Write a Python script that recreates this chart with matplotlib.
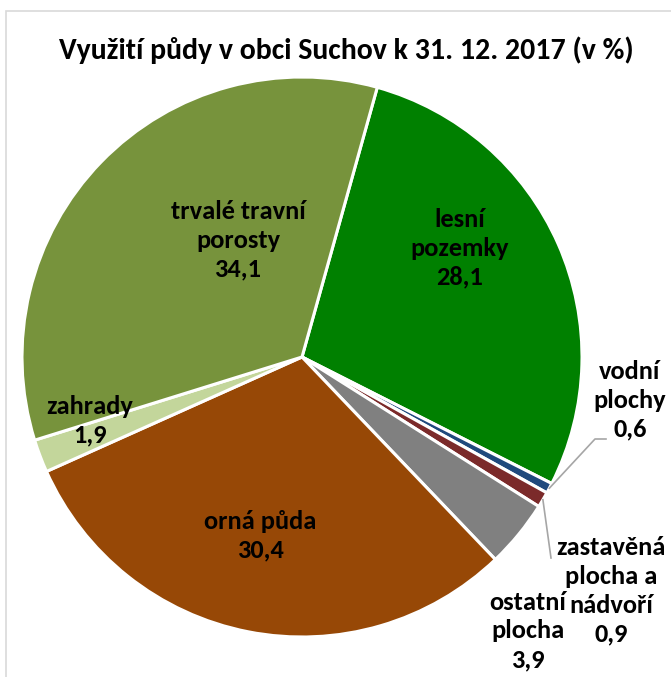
import numpy as np
import matplotlib
matplotlib.use("Agg")
import matplotlib.pyplot as plt
from matplotlib.patches import Rectangle

# data (share of land use, %)
categories = ["lesní\npozemky", "vodní\nplochy", "zastavěná\nplocha a\nnádvoří",
              "ostatní\nplocha", "orná půda", "zahrady", "trvalé travní\nporosty"]
values = [28.1, 0.6, 0.9, 3.9, 30.4, 1.9, 34.1]
value_labels = ["28,1", "0,6", "0,9", "3,9", "30,4", "1,9", "34,1"]
colors = ["#008000", "#1F497D", "#7B2A2A", "#808080", "#974806", "#C3D69B", "#77933C"]

plt.rcParams["font.family"] = ["Carlito", "Liberation Sans", "DejaVu Sans"]

W, H = 671, 677
fig = plt.figure(figsize=(W / 100, H / 100), dpi=100)
ax = fig.add_axes([0, 0, 1, 1])
ax.axis("off")

# light frame around the chart area
fig.patches.append(Rectangle((6 / W, -0.1), 1.2, 1 - 11 / H + 0.1, transform=fig.transFigure,
                             fill=False, edgecolor="#D9D9D9", linewidth=1.2))

cx, cy, r = 302, H - 357, 280
wedges, _ = ax.pie(values, colors=colors, startangle=74.4, counterclock=False,
                   center=(cx, cy), radius=r,
                   wedgeprops=dict(edgecolor="white", linewidth=2.2))
ax.set_xlim(0, W)
ax.set_ylim(0, H)
ax.set_aspect("equal")

ax.text(346, H - 50, "Využití půdy v obci Suchov k 31. 12. 2017 (v %)",
        ha="center", va="center", fontsize=21.5, fontweight="bold")

# label positions (image coordinates of the text centre)
label_pos = [(460, 248), (630, 400), (611, 591), (528, 631), (260, 536), (90, 421), (238, 240)]
for i, (x, y) in enumerate(label_pos):
    ax.text(x, H - y, categories[i] + "\n" + value_labels[i], ha="center", va="center",
            fontsize=19, fontweight="bold", linespacing=1.3)


def edge_point(w):
    mid = np.deg2rad((w.theta1 + w.theta2) / 2)
    return cx + r * np.cos(mid), cy + r * np.sin(mid)


# leader lines for the small slices
x0, y0 = edge_point(wedges[1])
ax.plot([x0, 595, 606], [y0, H - 439, H - 439], color="#A6A6A6", lw=1.2)
x0, y0 = edge_point(wedges[2])
ax.plot([x0, 551], [y0, H - 558], color="#A6A6A6", lw=1.2)

fig.savefig("out.png", dpi=100)
